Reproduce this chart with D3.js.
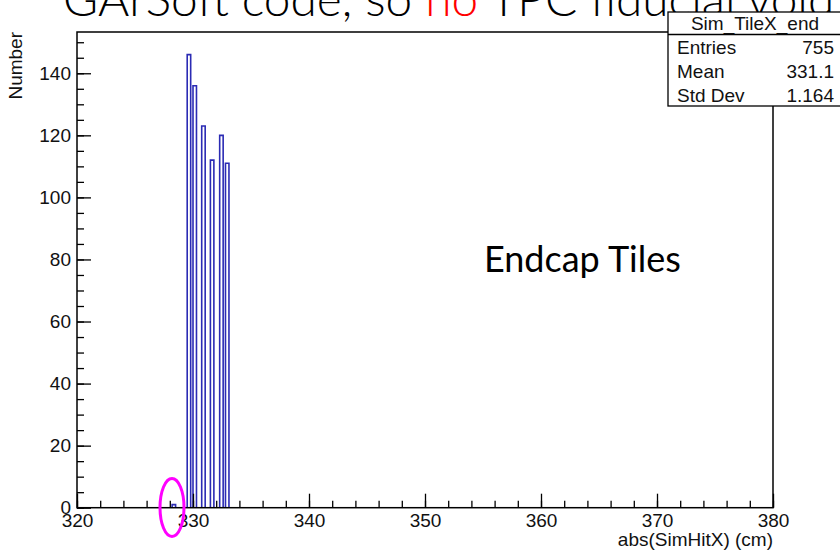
<!DOCTYPE html>
<html>
<head>
<meta charset="utf-8">
<script src="https://cdn.jsdelivr.net/npm/d3@7"></script>
<style>
  html, body { margin: 0; padding: 0; background: #fff; }
  svg { display: block; }
</style>
</head>
<body>
<svg id="chart" width="840" height="553"></svg>
<script>
// Histogram of |SimHitX| for endcap tiles
const binCenters = [328.35, 329.65, 330.15, 330.9, 331.65, 332.45, 332.95];
const binCounts  = [1, 146, 136, 123, 112, 120, 111];
const binWidth   = 0.3;

// Axis ticks
const xMajorTicks = [320, 330, 340, 350, 360, 370, 380];
const xMinorTicks = d3.range(320, 380.01, 2);
const yMajorTicks = [0, 20, 40, 60, 80, 100, 120, 140];
const yMinorTicks = d3.range(0, 153, 5);

// Statistics box
const statsTitle  = "Sim_TileX_end";
const statsLabels = ["Entries", "Mean", "Std Dev"];
const statsValues = ["755", "331.1", "1.164"];

// Slide text
const headingParts = [
  { text: "GArSoft code, so ", color: "#000" },
  { text: "no", color: "#ff0000" },
  { text: " TPC fiducial void", color: "#000" }
];
const noteText = "Endcap Tiles";

const svg = d3.select("#chart");
const frame = { left: 77, right: 773, top: 32, bottom: 507.7 };
const rootFont = "'Liberation Sans', Arial, Helvetica, sans-serif";
const slideFont = "Lato, 'Open Sans', sans-serif";

const x = d3.scaleLinear().domain([320, 380]).range([frame.left, frame.right]);
const y = d3.scaleLinear().domain([0, 153.3]).range([frame.bottom, frame.top]);

// Slide heading (partly hidden behind the canvas)
const heading = svg.append("text")
  .attr("x", 63).attr("y", 16)
  .attr("font-family", slideFont)
  .attr("font-weight", 300)
  .attr("font-size", 47.8);
heading.selectAll("tspan").data(headingParts).join("tspan")
  .attr("fill", d => d.color)
  .attr("xml:space", "preserve")
  .style("white-space", "pre")
  .text(d => d.text);

// Histogram outline
const histPath = d3.path();
binCenters.forEach((c, i) => {
  const lo = x(c - binWidth / 2), hi = x(c + binWidth / 2);
  histPath.moveTo(lo, y(0));
  histPath.lineTo(lo, y(binCounts[i]));
  histPath.lineTo(hi, y(binCounts[i]));
  histPath.lineTo(hi, y(0));
});
svg.append("path")
  .attr("d", histPath.toString())
  .attr("fill", "none")
  .attr("stroke", "#2b2bb4")
  .attr("stroke-width", 1.6);

// Axes
svg.append("g")
  .attr("transform", `translate(0,${frame.bottom})`)
  .call(d3.axisBottom(x).tickValues(xMajorTicks).tickSize(-14).tickPadding(6)
        .tickFormat(d3.format("d")));
svg.append("g")
  .attr("transform", `translate(0,${frame.bottom})`)
  .call(d3.axisBottom(x).tickValues(xMinorTicks).tickSize(-7).tickFormat(""));

svg.append("g")
  .attr("transform", `translate(${frame.left},0)`)
  .call(d3.axisLeft(y).tickValues(yMajorTicks).tickSize(-14).tickPadding(6)
        .tickFormat(d3.format("d")));
svg.append("g")
  .attr("transform", `translate(${frame.left},0)`)
  .call(d3.axisLeft(y).tickValues(yMinorTicks).tickSize(-7).tickFormat(""));

svg.selectAll(".domain").remove();
svg.selectAll(".tick line").attr("stroke", "#000").attr("stroke-width", 1.3);
svg.selectAll(".tick text")
  .attr("font-family", rootFont)
  .attr("font-size", 19)
  .attr("fill", "#111");

// Frame
svg.append("rect")
  .attr("x", frame.left).attr("y", frame.top)
  .attr("width", frame.right - frame.left)
  .attr("height", frame.bottom - frame.top)
  .attr("fill", "none")
  .attr("stroke", "#000")
  .attr("stroke-width", 1.5);

// Axis titles
svg.append("text")
  .attr("x", frame.right).attr("y", 546)
  .attr("text-anchor", "end")
  .attr("font-family", rootFont).attr("font-size", 19).attr("fill", "#111")
  .text("abs(SimHitX) (cm)");
svg.append("text")
  .attr("transform", `translate(22,${frame.top}) rotate(-90)`)
  .attr("text-anchor", "end")
  .attr("font-family", rootFont).attr("font-size", 19).attr("fill", "#111")
  .text("Number");

// Statistics box
const box = { left: 668, top: 12, right: 848, header: 34.5, bottom: 106 };
const statsG = svg.append("g");
statsG.append("rect")
  .attr("x", box.left).attr("y", box.top)
  .attr("width", box.right - box.left).attr("height", box.bottom - box.top)
  .attr("fill", "#fff").attr("stroke", "#000").attr("stroke-width", 1.3);
statsG.append("line")
  .attr("x1", box.left).attr("x2", box.right)
  .attr("y1", box.header).attr("y2", box.header)
  .attr("stroke", "#000").attr("stroke-width", 1.3);
statsG.append("text")
  .attr("x", 755).attr("y", 30)
  .attr("text-anchor", "middle")
  .attr("font-family", rootFont).attr("font-size", 19).attr("fill", "#111")
  .text(statsTitle);
const rowY = d3.scalePoint().domain(statsLabels).range([54, 102]);
statsG.selectAll("text.lbl").data(statsLabels).join("text")
  .attr("class", "lbl")
  .attr("x", 677).attr("y", d => rowY(d))
  .attr("font-family", rootFont).attr("font-size", 19).attr("fill", "#111")
  .text(d => d);
statsG.selectAll("text.val").data(statsValues).join("text")
  .attr("class", "val")
  .attr("x", 834).attr("y", (d, i) => rowY(statsLabels[i]))
  .attr("text-anchor", "end")
  .attr("font-family", rootFont).attr("font-size", 19).attr("fill", "#111")
  .text(d => d);

// Annotation
svg.append("text")
  .attr("x", 484).attr("y", 272)
  .attr("font-family", slideFont)
  .attr("font-size", 36)
  .attr("fill", "#000")
  .text(noteText);

// Highlight around the isolated low bin
svg.append("ellipse")
  .attr("cx", 172).attr("cy", 507.5)
  .attr("rx", 12).attr("ry", 29)
  .attr("fill", "none")
  .attr("stroke", "#ff00ff")
  .attr("stroke-width", 3);
</script>
</body>
</html>
